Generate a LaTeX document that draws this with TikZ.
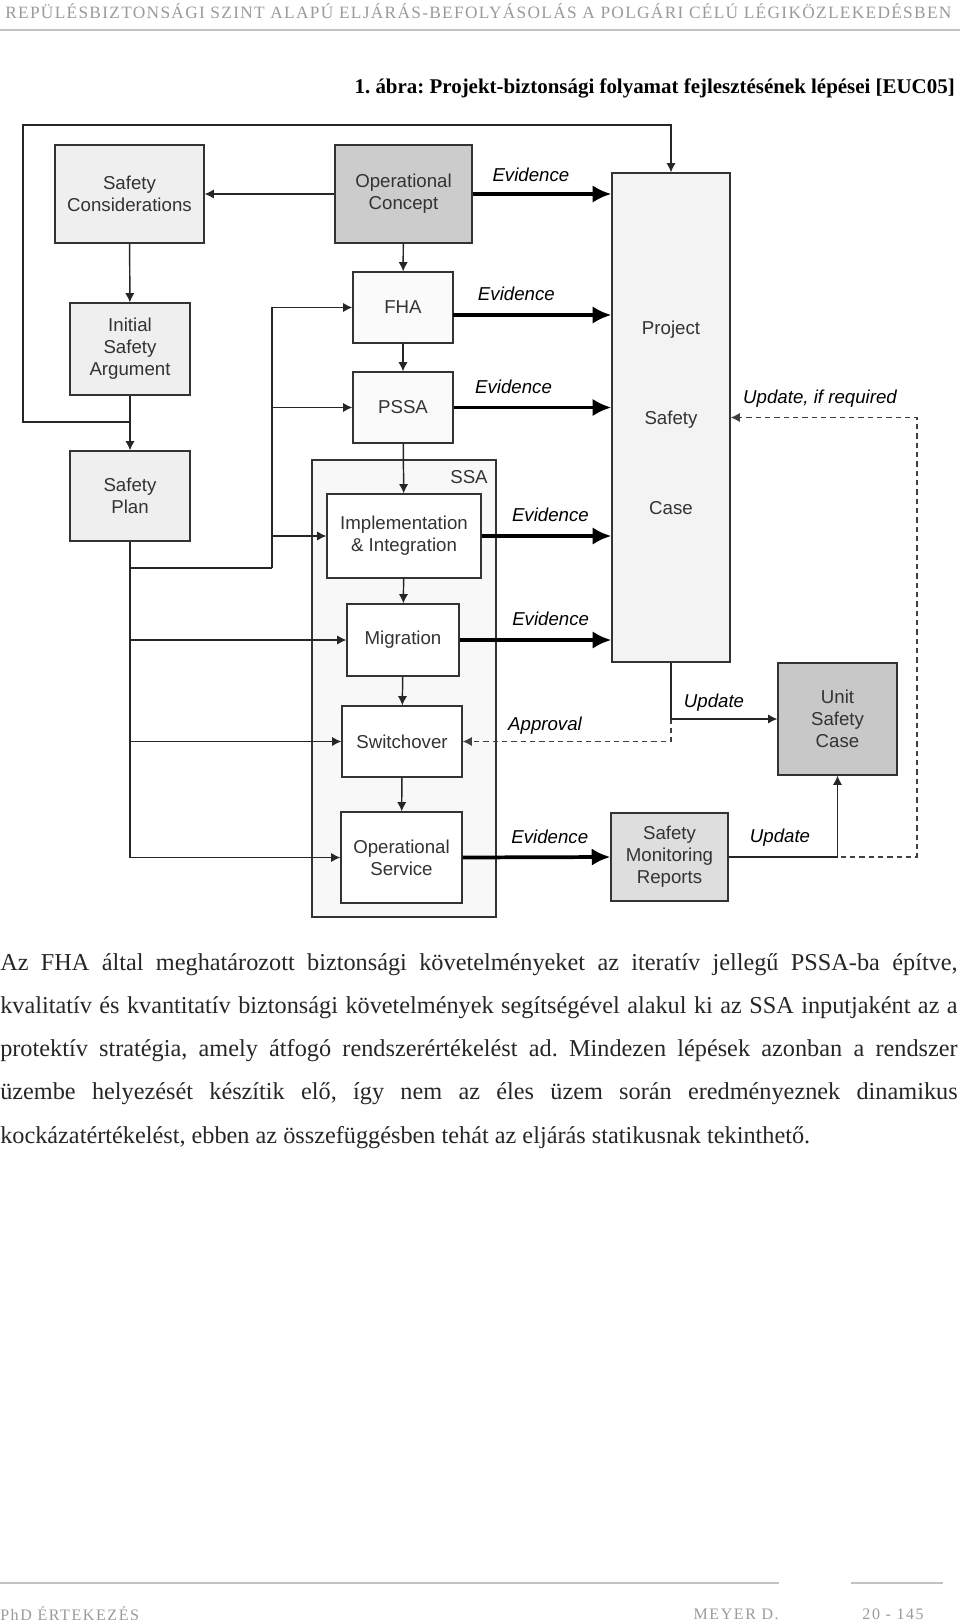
\documentclass[tikz,border=0pt]{standalone}
\usepackage{fontspec}
\setmainfont{Liberation Serif}
\setsansfont{Liberation Sans}
\usetikzlibrary{arrows.meta}
\definecolor{boxline}{HTML}{333333}
\definecolor{lightfill}{HTML}{EFEFEF}
\definecolor{darkfill}{HTML}{CCCCCC}
\definecolor{midfill}{HTML}{DEDEDE}
\definecolor{casefill}{HTML}{F3F3F3}
\definecolor{ssafill}{HTML}{F8F8F8}
\definecolor{pagegray}{HTML}{9A9A9A}
\frenchspacing
\begin{document}
\begin{tikzpicture}[x=0.75pt, y=-0.75pt,
    box/.style={draw=boxline, line width=0.9pt, align=center, inner sep=0pt,
        font=\sffamily\fontsize{14}{16.5}\selectfont, text=black!80},
    flow/.style={draw=black!85, line width=1.1pt, -{Latex[length=7pt,width=7pt]}},
    plain/.style={draw=black!85, line width=1.1pt},
    evid/.style={draw=black, line width=2.8pt, -{Latex[length=14pt,width=13pt]}},
    dashflow/.style={draw=black!75, line width=1.1pt, dash pattern=on 4pt off 3pt, -{Latex[length=7pt,width=7pt]}},
    tag/.style={font=\sffamily\itshape\fontsize{14}{16.5}\selectfont, inner sep=0pt},
    pagetext/.style={inner sep=0pt, text=pagegray, font=\fontsize{12}{14}\selectfont\addfontfeature{LetterSpace=10}}]
  \useasboundingbox (0,0) rectangle (960,1623);

  % page head
  \node[anchor=west, inner sep=0pt, text=pagegray, font=\fontsize{13}{15}\selectfont\addfontfeature{LetterSpace=7.5}] (head) at (5,11)
    {REPÜLÉSBIZTONSÁGI SZINT ALAPÚ ELJÁRÁS-BEFOLYÁSOLÁS A POLGÁRI CÉLÚ LÉGIKÖZLEKEDÉSBEN};
  \draw[pagegray!60, line width=0.8pt] (0,30) -- (960,30);
  \node[anchor=east, inner sep=0pt, font=\bfseries\fontsize{15.7}{18}\selectfont] (title) at (955,88)
    {1. ábra: Projekt-biztonsági folyamat fejlesztésének lépései [EUC05]};

  % SSA frame
  \node[draw=boxline, line width=0.9pt, fill=ssafill, minimum width=138pt, minimum height=342.75pt] (ssa) at (404,688.5) {};
  \node[font=\sffamily\fontsize{14}{16.5}\selectfont, text=black!80, inner sep=0pt] (ssalabel) at (469,477) {SSA};

  % boxes
  \node[box, fill=lightfill, minimum width=111.75pt, minimum height=73.5pt] (sc) at (129.5,194) {Safety\\Considerations};
  \node[box, fill=darkfill, minimum width=102.75pt, minimum height=73.5pt] (oc) at (403.5,194) {Operational\\Concept};
  \node[box, fill=lightfill, minimum width=90pt, minimum height=69pt] (isa) at (130,349) {Initial\\Safety\\Argument};
  \node[box, fill=white!98!black, minimum width=75pt, minimum height=53.25pt] (fha) at (403,307.5) {FHA};
  \node[box, fill=white!98!black, minimum width=75pt, minimum height=53.25pt] (pssa) at (403,407.5) {PSSA};
  \node[box, fill=lightfill, minimum width=90pt, minimum height=67.5pt] (sp) at (130,496) {Safety\\Plan};
  \node[box, fill=white, minimum width=115.5pt, minimum height=63pt] (impl) at (404,536) {Implementation\\\& Integration};
  \node[box, fill=white, minimum width=84pt, minimum height=54pt] (mig) at (403,640) {Migration};
  \node[box, fill=white, minimum width=90pt, minimum height=53.25pt] (sw) at (402,741.5) {Switchover};
  \node[box, fill=white, minimum width=90.75pt, minimum height=68.25pt] (ops) at (401.5,857.5) {Operational\\Service};
  \node[box, fill=casefill, minimum width=88.5pt, minimum height=366.75pt] (psc) at (671,417.5)
    {Project\\[51pt]Safety\\[51pt]Case};
  \node[box, fill=midfill!90!black, minimum width=89.25pt, minimum height=84pt] (usc) at (837.5,719) {Unit\\Safety\\Case};
  \node[box, fill=midfill, minimum width=87.75pt, minimum height=66pt] (smr) at (669.5,857) {Safety\\Monitoring\\Reports};

  \coordinate (loop) at (130,422);
  \coordinate (feed) at (272,568);
  \coordinate (corner) at (917,857);
  \coordinate (fhaout) at (453,315);

  % thin flows
  \draw[flow] (oc) -- (sc);
  \draw[flow] (sc) -- (isa);
  \draw[flow] (isa) -- (sp);
  \draw[flow] (oc) -- (fha);
  \draw[flow] (fha) -- (pssa);
  \draw[flow] (pssa) -- (impl);
  \draw[flow] (impl) -- (mig);
  \draw[flow] (mig) -- (sw);
  \draw[flow] (sw) -- (ops);
  \draw[flow] (loop) -| (23,125) -| (psc.north);
  \draw[plain] (sp.south) |- (feed);
  \draw[flow] (feed) |- (fha.west);
  \draw[flow] (feed |- pssa.west) -- (pssa.west);
  \draw[flow] (feed |- impl.west) -- (impl.west);
  \draw[flow] (sp.south) |- (ops.west);
  \draw[flow] (sp.south |- mig.west) -- (mig.west);
  \draw[flow] (sp.south |- sw.west) -- (sw.west);

  % evidence
  \path (oc.east) edge[evid] node[tag, above=8pt, pos=0.42] {Evidence} (oc.east -| psc.west);
  \path (fhaout) edge[evid] node[tag, above=9pt, pos=0.4] {Evidence} (fhaout -| psc.west);
  \path (pssa.east) edge[evid] node[tag, above=9pt, pos=0.38] {Evidence} (pssa.east -| psc.west);
  \path (impl.east) edge[evid] node[tag, above=9pt, pos=0.53] {Evidence} (impl.east -| psc.west);
  \path (mig.east) edge[evid] node[tag, above=9pt, pos=0.6] {Evidence} (mig.east -| psc.west);
  \path (ops.east) edge[evid] node[tag, above=9pt, pos=0.59] {Evidence} (smr.west);

  % updates
  \draw[dashflow] (smr.east) -- (corner) -- (corner |- psc.east) -- (psc.east);
  \node[tag] (ifreq) at (820,399) {Update, if required};
  \draw[dashflow] (psc.south) |- (sw.east);
  \node[tag] (approval) at (545,726) {Approval};
  \draw[flow] (psc.south) |- (usc.west);
  \node[tag] (upd1) at (714,703) {Update};
  \draw[flow] (smr.east) -| (usc.south);
  \node[tag] (upd2) at (780,838) {Update};

  % body text
  \begin{scope}[every node/.style={anchor=west, inner sep=0pt, text=black!85, font=\fontsize{18.2}{21}\selectfont}]
    \node (l1) at (0,965) {\makebox[718pt][s]{Az FHA által meghatározott biztonsági követelményeket az iteratív jellegű PSSA-ba építve,}};
    \node (l2) at (0,1008) {\makebox[718pt][s]{kvalitatív és kvantitatív biztonsági követelmények segítségével alakul ki az SSA inputjaként az a}};
    \node (l3) at (0,1051) {\makebox[718pt][s]{protektív stratégia, amely átfogó rendszerértékelést ad. Mindezen lépések azonban a rendszer}};
    \node (l4) at (0,1094) {\makebox[718pt][s]{üzembe helyezését készítik elő, így nem az éles üzem során eredményeznek dinamikus}};
    \node (l5) at (0,1138) {kockázatértékelést, ebben az összefüggésben tehát az eljárás statikusnak tekinthető.};
  \end{scope}

  % page foot
  \draw[pagegray!60, line width=0.8pt] (0,1583) -- (779,1583);
  \draw[pagegray!60, line width=0.8pt] (851,1583) -- (943,1583);
  \node[pagetext, anchor=west] (foot1) at (0,1614) {PhD ÉRTEKEZÉS};
  \node[pagetext, anchor=east] (foot2) at (779,1614) {MEYER D.};
  \node[pagetext, anchor=east] (foot3) at (924,1614) {20 - 145};
\end{tikzpicture}
\end{document}
